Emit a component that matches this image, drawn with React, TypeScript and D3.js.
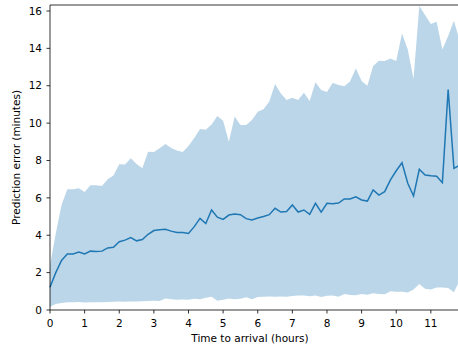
import React from "react";
import * as d3 from "d3";

// Prediction error vs. time to arrival, sampled every 10 minutes (hours = i / 6)
const hours: number[] = Array.from({ length: 72 }, (_, i) => i / 6);

const meanError: number[] = [
  1.22, 2.0, 2.65, 3.0, 3.0, 3.1, 3.0, 3.15, 3.13, 3.15,
  3.32, 3.36, 3.65, 3.74, 3.87, 3.7, 3.77, 4.05, 4.25, 4.3,
  4.32, 4.22, 4.15, 4.15, 4.1, 4.46, 4.9, 4.63, 5.35, 4.97,
  4.85, 5.08, 5.13, 5.1, 4.89, 4.82, 4.92, 5.0, 5.1, 5.44,
  5.24, 5.27, 5.62, 5.24, 5.35, 5.12, 5.71, 5.24, 5.71, 5.69,
  5.72, 5.94, 5.94, 6.06, 5.89, 5.83, 6.42, 6.15, 6.33, 6.96,
  7.45, 7.88, 6.78, 6.1, 7.53, 7.22, 7.18, 7.16, 6.81, 11.8,
  7.58, 7.75,
];

const lowerError: number[] = [
  0.18, 0.32, 0.38, 0.42, 0.42, 0.43, 0.4, 0.42, 0.41, 0.42,
  0.43, 0.44, 0.45, 0.44, 0.45, 0.46, 0.47, 0.48, 0.49, 0.48,
  0.62, 0.57, 0.55, 0.56, 0.55, 0.6, 0.58, 0.66, 0.71, 0.49,
  0.55, 0.62, 0.58, 0.6, 0.68, 0.57, 0.7, 0.71, 0.72, 0.71,
  0.72, 0.71, 0.75, 0.77, 0.78, 0.73, 0.77, 0.69, 0.76, 0.78,
  0.71, 0.86, 0.8, 0.79, 0.86, 0.82, 0.89, 0.86, 0.84, 1.0,
  0.98, 0.98, 0.93, 1.1, 1.39, 1.14, 1.1, 1.21, 1.2, 1.18,
  0.95, 1.6,
];

const upperError: number[] = [
  2.4, 4.1, 5.62, 6.46, 6.46, 6.51, 6.31, 6.67, 6.67, 6.63,
  7.0, 7.2, 7.8, 7.79, 8.12, 7.81, 7.58, 8.47, 8.45, 8.65,
  8.88, 8.67, 8.53, 8.46, 8.78, 9.2, 9.69, 9.64, 9.93, 10.38,
  10.12, 9.0, 10.35, 9.9, 9.9, 10.17, 10.61, 10.74, 11.15, 12.09,
  11.59, 11.24, 11.36, 11.24, 11.63, 11.18, 12.18, 11.77, 11.66, 12.16,
  12.04, 11.97, 12.23, 12.93, 12.25, 12.0, 13.05, 13.34, 13.32, 13.46,
  13.32, 14.8, 13.94, 12.36, 16.27, 15.78, 15.3, 15.43, 13.94, 14.66,
  15.48, 14.4,
];

const xTicks: number[] = [0, 1, 2, 3, 4, 5, 6, 7, 8, 9, 10, 11];
const yTicks: number[] = [0, 2, 4, 6, 8, 10, 12, 14, 16];

const W = 458;
const H = 352;
const FONT = "'DejaVu Sans', sans-serif";
const BLUE = "#1f77b4";

export default function App() {
  const left = 50;
  const right = 459.7;
  const top = 5;
  const bottom = 310;

  const x = d3.scaleLinear().domain([0, 71 / 6]).range([left, right]);
  const y = d3.scaleLinear().domain([0, 16.32]).range([bottom, top]);

  const area = d3
    .area<number>()
    .x((_, i) => x(hours[i]))
    .y0((_, i) => y(lowerError[i]))
    .y1((d) => y(d));
  const line = d3
    .line<number>()
    .x((_, i) => x(hours[i]))
    .y((d) => y(d));

  return (
    <svg
      width={W}
      height={H}
      style={{ position: "absolute", left: 0, top: 0, background: "#fff" }}
    >
      <path d={area(upperError) ?? ""} fill={BLUE} fillOpacity={0.3} stroke="none" />
      <path d={line(meanError) ?? ""} fill="none" stroke={BLUE} strokeWidth={1.5} />

      {/* spines */}
      <g stroke="#000" strokeWidth={0.8} fill="none">
        <line x1={left} x2={left} y1={top} y2={bottom} />
        <line x1={left} x2={right} y1={bottom} y2={bottom} />
        <line x1={left} x2={right} y1={top} y2={top} />
        <line x1={right} x2={right} y1={top} y2={bottom} />
      </g>

      {/* x axis */}
      <g fontFamily={FONT} fontSize={10.5} fill="#000">
        {xTicks.map((t) => (
          <g key={`x${t}`}>
            <line x1={x(t)} x2={x(t)} y1={bottom} y2={bottom + 3.5} stroke="#000" strokeWidth={0.8} />
            <text x={x(t)} y={326.5} textAnchor="middle">
              {t}
            </text>
          </g>
        ))}
        <text x={250} y={342} textAnchor="middle">
          Time to arrival (hours)
        </text>
      </g>

      {/* y axis */}
      <g fontFamily={FONT} fontSize={10.5} fill="#000">
        {yTicks.map((t) => (
          <g key={`y${t}`}>
            <line x1={left - 3.5} x2={left} y1={y(t)} y2={y(t)} stroke="#000" strokeWidth={0.8} />
            <text x={left - 8} y={y(t)} dy="0.35em" textAnchor="end">
              {t}
            </text>
          </g>
        ))}
        <text
          transform={`translate(20,${(top + bottom) / 2}) rotate(-90)`}
          textAnchor="middle"
        >
          Prediction error (minutes)
        </text>
      </g>
    </svg>
  );
}
